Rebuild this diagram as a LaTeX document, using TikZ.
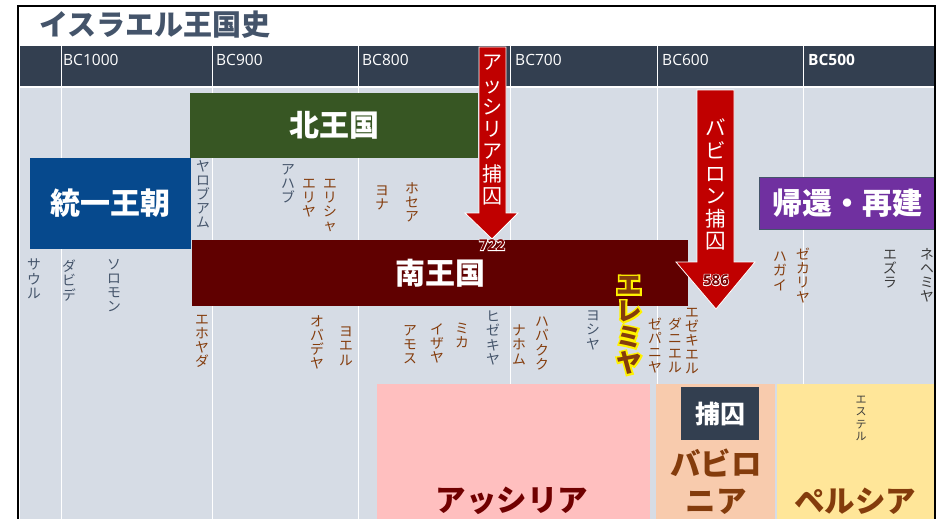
\documentclass[tikz,border=0pt]{standalone}
\usepackage{fontspec}
\setmainfont{Noto Sans CJK JP}
\newfontfamily\latinf{Open Sans}
\newfontfamily\glowjp[BoldFeatures={FakeBold=14}]{Noto Sans CJK JP}
\newfontfamily\glownum[BoldFeatures={FakeBold=10}]{Open Sans}
\definecolor{hdr}{HTML}{333F50}
\definecolor{bodybg}{HTML}{D6DCE5}
\definecolor{cgreen}{HTML}{375623}
\definecolor{cblue}{HTML}{06498D}
\definecolor{csouth}{HTML}{600000}
\definecolor{cpurple}{HTML}{7030A0}
\definecolor{cred}{HTML}{C00000}
\definecolor{cpink}{HTML}{FFBFBF}
\definecolor{cpeach}{HTML}{F8CBAD}
\definecolor{cyel}{HTML}{FFE699}
\definecolor{cbrown}{HTML}{843C0C}
\definecolor{cking}{HTML}{44546A}
\definecolor{cdgray}{HTML}{3A3A3A}
\definecolor{cassy}{HTML}{700000}
\definecolor{cnum}{HTML}{7A0000}
\tikzset{
  box/.style={inner sep=0pt, text=white, font=\bfseries\fontsize{30}{32}\selectfont},
  vl/.style={anchor=north, inner sep=0pt, align=center, font=\fontsize{13.8}{14.1}\selectfont},
  king/.style={vl, text=cking},
  proph/.style={vl, text=cbrown},
  scribe/.style={vl, text=cdgray},
  hlab/.style={anchor=west, inner sep=0pt, text=white, font=\latinf\fontsize{15.5}{17}\selectfont},
  arrowbody/.style={fill=cred, draw=white, line width=0.8pt},
  arrtext/.style={anchor=north, inner sep=0pt, align=center, text=white, font=\fontsize{20}{22.3}\selectfont},
  numlab/.style={inner sep=0pt, font=\latinf\bfseries\fontsize{15}{16}\selectfont},
  numglow/.style={inner sep=0pt, text=white, font=\glownum\bfseries\fontsize{15}{16}\selectfont},
  region/.style={inner sep=0pt, font=\bfseries\fontsize{30.5}{37}\selectfont},
  jer/.style={anchor=north, inner sep=0pt, align=center, text=cbrown, font=\bfseries\fontsize{25.5}{26}\selectfont},
  jerglow/.style={anchor=north, inner sep=0pt, align=center, text=yellow, font=\glowjp\bfseries\fontsize{25.5}{26}\selectfont},
}
\begin{document}
\begin{tikzpicture}[x=1pt,y=-1pt]
\useasboundingbox (0,0) rectangle (937,519);
\clip (0,0) rectangle (937,519);
\fill[white] (0,0) rectangle (937,519);
% header and body
\fill[hdr] (19.5,46) rectangle (933.5,86);
\fill[bodybg] (19.5,88) rectangle (933.5,519);
\foreach \xx in {61,212,358,510,657,803}
  \draw[white, line width=1pt] (\xx,46) -- (\xx,519);
% title
\node[anchor=west, inner sep=0pt, text=cking, font=\bfseries\fontsize{29}{31}\selectfont] (title) at (39,25) {イスラエル王国史};
% header labels
\node[hlab] (bc1000) at (63,60) {BC1000};
\node[hlab] (bc900) at (216,60) {BC900};
\node[hlab] (bc800) at (362,60) {BC800};
\node[hlab] (bc700) at (515,60) {BC700};
\node[hlab] (bc600) at (662,60) {BC600};
\node[hlab, font=\latinf\bfseries\fontsize{15.5}{17}\selectfont] (bc500) at (808,60) {BC500};
% kingdom boxes
\node[box, fill=cgreen, minimum width=288pt, minimum height=65pt] (north) at (334,125.5) {北王国};
\node[box, fill=cblue, minimum width=161pt, minimum height=91pt] (united) at (110.5,203.5) {統一王朝};
\node[box, fill=csouth, minimum width=496pt, minimum height=66pt] (south) at (440,273) {南王国};
\node[box, fill=cpurple, draw=cking, line width=1.2pt, minimum width=175pt, minimum height=52pt] (return) at (847,203.5) {帰還・再建};
% empire boxes
\node[fill=cpink, inner sep=0pt, minimum width=273pt, minimum height=141pt] (assyria) at (513.5,454.5) {};
\node[fill=cpeach, inner sep=0pt, minimum width=119pt, minimum height=141pt] (babylonia) at (715.5,454.5) {};
\node[fill=cyel, inner sep=0pt, minimum width=158pt, minimum height=141pt] (persia) at (856,454.5) {};
\node[region, text=cassy] (assyrialab) at (512,501) {アッシリア};
\node[region, text=cbrown, align=center] (babylonialab) at (716,482) {バビロ\\ニア};
\node[region, text=cbrown] (persialab) at (855,501) {ペルシア};
\node[fill=hdr, text=white, inner sep=0pt, minimum width=78pt, minimum height=53pt, font=\bfseries\fontsize{25}{27}\selectfont] (captivity) at (720,413.5) {捕囚};
\node[vl, text=cdgray, font=\fontsize{11}{12.3}\selectfont] (esther) at (861,396) {エ\\ス\\テ\\ル};
% kings and prophets
\node[king] (saul) at (34,259) {サ\\ウ\\ル};
\node[king] (david) at (69,260) {ダ\\ビ\\デ};
\node[king] (solomon) at (114,259) {ソ\\ロ\\モ\\ン};
\node[king] (jeroboam) at (203,160) {ヤ\\ロ\\ブ\\ア\\ム};
\node[king] (ahab) at (288,164) {ア\\ハ\\ブ};
\node[proph] (elijah) at (309,179) {エ\\リ\\ヤ};
\node[proph] (elisha) at (330,179) {エ\\リ\\シ\\ャ};
\node[proph] (jonah) at (382,186) {ヨ\\ナ};
\node[proph] (hosea) at (412,182) {ホ\\セ\\ア};
\node[proph] (jehoiada) at (202,315) {エ\\ホ\\ヤ\\ダ};
\node[proph] (obadiah) at (317,315) {オ\\バ\\デ\\ヤ};
\node[proph] (joel) at (346,327) {ヨ\\エ\\ル};
\node[proph] (amos) at (410,325) {ア\\モ\\ス};
\node[proph] (isaiah) at (437,323) {イ\\ザ\\ヤ};
\node[proph] (micah) at (462,323) {ミ\\カ};
\node[king] (hezekiah) at (493,311) {ヒ\\ゼ\\キ\\ヤ};
\node[proph] (nahum) at (519,325) {ナ\\ホ\\ム};
\node[proph] (habakkuk) at (542,317) {ハ\\バ\\ク\\ク};
\node[king] (josiah) at (593,311) {ヨ\\シ\\ヤ};
\node[proph] (zephaniah) at (655,318) {ゼ\\パ\\ニ\\ヤ};
\node[proph] (daniel) at (675,318) {ダ\\ニ\\エ\\ル};
\node[proph] (ezekiel) at (692,308) {エ\\ゼ\\キ\\エ\\ル};
\node[proph] (haggai) at (780,252) {ハ\\ガ\\イ};
\node[proph] (zechariah) at (803,248) {ゼ\\カ\\リ\\ヤ};
\node[scribe] (ezra) at (890,250) {エ\\ズ\\ラ};
\node[scribe] (nehemiah) at (927,248) {ネ\\ヘ\\ミ\\ヤ};
% Jeremiah with glow
\node[jerglow] (jeremiahglow) at (629,276) {エ\\レ\\ミ\\ヤ};
\node[jer] (jeremiah) at (629,276) {エ\\レ\\ミ\\ヤ};
% captivity arrows
\coordinate (a1tip) at (492,239);
\draw[arrowbody] (479,47) -- (506,47) -- (506,213) -- (518,213) -- (a1tip) -- (465,213) -- (479,213) -- cycle;
\node[arrtext] (a1text) at (492.5,55) {ア\\ッ\\シ\\リ\\ア\\捕\\囚};
\coordinate (a2tip) at (716,309);
\draw[arrowbody] (697,90) -- (734,90) -- (734,262) -- (755,262) -- (a2tip) -- (676,262) -- (697,262) -- cycle;
\node[arrtext, font=\fontsize{20.5}{22.6}\selectfont] (a2text) at (715.5,119) {バ\\ビ\\ロ\\ン\\捕\\囚};
% year labels with white outline
\node[numglow] (y722glow) at (492,245) {722};
\node[numglow] (y586glow) at (716,280) {586};
\node[numlab, text=cnum] (y722) at (492,245) {722};
\node[numlab, text=cnum] (y586) at (716,280) {586};
% frame
\draw[black, line width=2.5pt] (18,530) -- (18,6) -- (935,6) -- (935,530);
\end{tikzpicture}
\end{document}
